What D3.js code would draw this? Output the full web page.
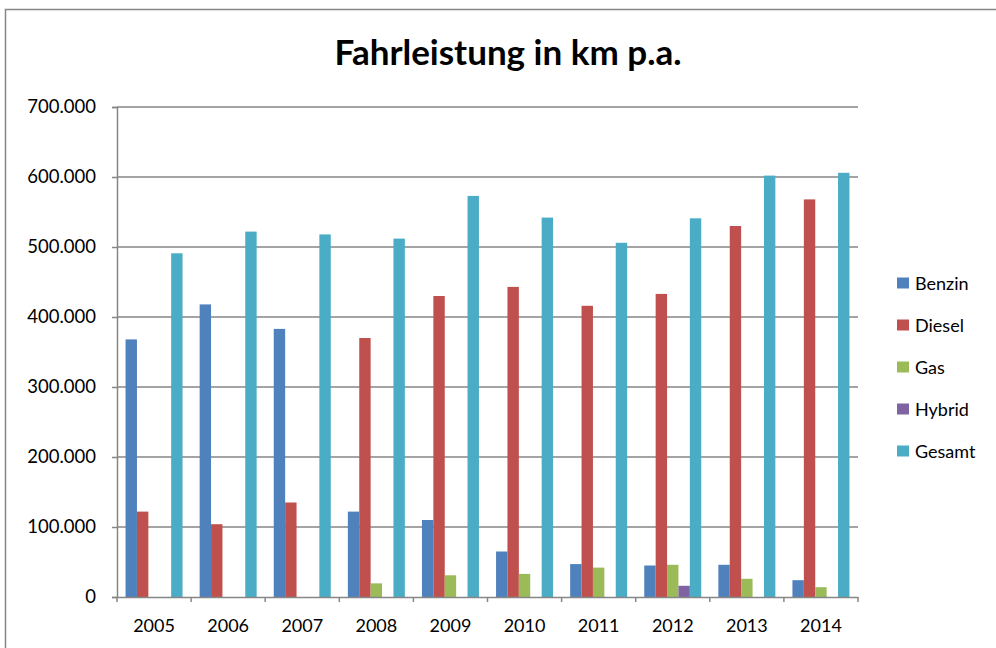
<!DOCTYPE html>
<html>
<head>
<meta charset="utf-8">
<script src="https://cdn.jsdelivr.net/npm/d3@7"></script>
<style>
  body { margin: 0; background: #fff; }
  text { font-family: Lato, "Open Sans", sans-serif; fill: #000; }
</style>
</head>
<body>
<div id="chart"></div>
<script>
var years = ["2005", "2006", "2007", "2008", "2009", "2010", "2011", "2012", "2013", "2014"];
var seriesNames = ["Benzin", "Diesel", "Gas", "Hybrid", "Gesamt"];
var benzin = [368000, 418000, 383000, 122000, 110000, 65000, 47000, 45000, 46000, 24000];
var diesel = [122000, 104000, 135000, 370000, 430000, 443000, 416000, 433000, 530000, 568000];
var gas = [0, 0, 0, 19500, 31000, 33000, 42000, 46000, 26000, 14000];
var hybrid = [0, 0, 0, 0, 0, 0, 0, 16000, 0, 0];
var gesamt = [491000, 522000, 518000, 512000, 573000, 542000, 506000, 541000, 602000, 606000];
var yTicks = [0, 100000, 200000, 300000, 400000, 500000, 600000, 700000];
var colors = ["#4F81BD", "#C0504D", "#9BBB59", "#8064A2", "#4BACC6"];

var seriesValues = [benzin, diesel, gas, hybrid, gesamt];

var svgWidth = 996;
var svgHeight = 648;
var margin = { top: 107, right: 138, bottom: 51, left: 117 };
var width = svgWidth - margin.left - margin.right;
var height = svgHeight - margin.top - margin.bottom;

var svg = d3.select("#chart")
  .append("svg")
  .attr("width", svgWidth)
  .attr("height", svgHeight);

// outer chart frame
svg.append("rect")
  .attr("x", 5.5).attr("y", 9.5)
  .attr("width", 1000).attr("height", 700)
  .attr("fill", "none")
  .attr("stroke", "#868686")
  .attr("stroke-width", 1.5);

svg.append("text")
  .attr("x", 508)
  .attr("y", 65)
  .attr("text-anchor", "middle")
  .style("font-size", "35px")
  .style("font-weight", "bold")
  .text("Fahrleistung in km p.a.");

var chartGroup = svg.append("g")
  .attr("transform", `translate(${margin.left}, ${margin.top})`);

var x0 = d3.scaleBand().domain(years).range([0, width]).paddingInner(0).paddingOuter(0);
// gap width 150% -> bars take 5/(5+1.5) of the band
var groupW = x0.bandwidth() * 5 / 6.5;
var x1 = d3.scaleBand().domain(seriesNames).range([0, groupW]);
var y = d3.scaleLinear().domain([0, 700000]).range([height, 0]);

var fmt = d3.formatLocale({ decimal: ",", thousands: ".", grouping: [3], currency: ["", "€"] }).format(",.0f");

// gridlines
chartGroup.append("g")
  .selectAll("line")
  .data(yTicks.slice(1))
  .enter()
  .append("line")
  .attr("x1", 0).attr("x2", width)
  .attr("y1", d => y(d)).attr("y2", d => y(d))
  .attr("stroke", "#868686")
  .attr("stroke-width", 1.5);

// bars
var groups = chartGroup.selectAll(".year")
  .data(years)
  .enter()
  .append("g")
  .attr("transform", d => `translate(${x0(d) + (x0.bandwidth() - groupW) / 2}, 0)`);

groups.selectAll("rect")
  .data((d, i) => seriesNames.map((s, j) => ({ s: s, v: seriesValues[j][i], c: colors[j] })))
  .enter()
  .append("rect")
  .attr("x", d => x1(d.s))
  .attr("y", d => y(d.v))
  .attr("width", x1.bandwidth())
  .attr("height", d => height - y(d.v))
  .attr("fill", d => d.c);

// axes
var leftAxis = d3.axisLeft(y).tickValues(yTicks).tickSize(5).tickFormat(fmt);
var yAxisG = chartGroup.append("g").call(leftAxis);
yAxisG.select(".domain").attr("stroke", "#868686").attr("stroke-width", 1.5);
yAxisG.selectAll(".tick line").attr("stroke", "#868686").attr("stroke-width", 1.5);
yAxisG.selectAll(".tick text").attr("x", -21).style("font-size", "18.5px").style("font-family", "Lato, sans-serif");

var bottomAxis = d3.axisBottom(x0).tickSize(0);
var xAxisG = chartGroup.append("g")
  .attr("transform", `translate(0, ${height})`)
  .call(bottomAxis);
xAxisG.select(".domain").attr("stroke", "#868686").attr("stroke-width", 1.5);
xAxisG.selectAll(".tick text").attr("y", 22).style("font-size", "18px").style("font-family", "Lato, sans-serif");
xAxisG.selectAll(".sep")
  .data(d3.range(years.length + 1))
  .enter()
  .append("line")
  .attr("x1", d => d * x0.bandwidth()).attr("x2", d => d * x0.bandwidth())
  .attr("y1", 0).attr("y2", 5)
  .attr("stroke", "#868686")
  .attr("stroke-width", 1.5);

// legend
var legend = svg.append("g").attr("transform", "translate(897, 283)");
var items = legend.selectAll("g")
  .data(seriesNames)
  .enter()
  .append("g")
  .attr("transform", (d, i) => `translate(0, ${i * 42})`);
items.append("rect")
  .attr("x", 0).attr("y", -5.5)
  .attr("width", 12).attr("height", 11)
  .attr("fill", (d, i) => colors[i]);
items.append("text")
  .attr("x", 18).attr("y", 6.5)
  .style("font-size", "18px")
  .text(d => d);
</script>
</body>
</html>
